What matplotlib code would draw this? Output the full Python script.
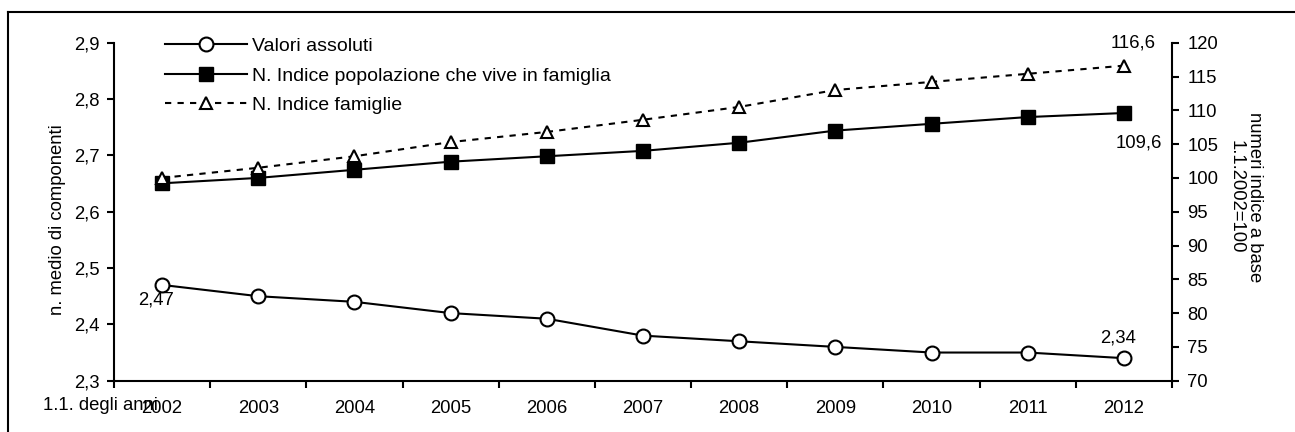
import matplotlib
matplotlib.use("Agg")
import matplotlib.pyplot as plt
from matplotlib.lines import Line2D

plt.rcParams['font.family'] = ['Liberation Sans', 'DejaVu Sans']

years = ['2002', '2003', '2004', '2005', '2006', '2007', '2008', '2009', '2010', '2011', '2012']
valori_assoluti = [2.47, 2.45, 2.44, 2.42, 2.41, 2.38, 2.37, 2.36, 2.35, 2.35, 2.34]
indice_popolazione = [99.2, 100.0, 101.2, 102.4, 103.2, 104.0, 105.2, 107.0, 108.0, 109.0, 109.6]
indice_famiglie = [100.0, 101.5, 103.2, 105.3, 106.8, 108.6, 110.5, 113.0, 114.2, 115.4, 116.6]

left_ticks = [2.3, 2.4, 2.5, 2.6, 2.7, 2.8, 2.9]
right_ticks = list(range(70, 121, 5))

W, H = 1295, 432
fig = plt.figure(figsize=(W / 100, H / 100), dpi=100)
ax = fig.add_axes([114 / W, 1 - 380.7 / H, (1172 - 114) / W, (380.7 - 42.7) / H])
ax2 = ax.twinx()

x = [i + 0.5 for i in range(len(years))]
FS = 13.3
LW = 1.5
ax.set_xlim(0, len(years))
ax.set_ylim(2.3, 2.9)
ax2.set_ylim(70, 120)

# absolute values on the left axis
l1, = ax.plot(x, valori_assoluti, color='black', lw=LW, marker='o', ms=10,
              mfc='white', mec='black', mew=LW, zorder=5)
# index series on the right axis
l2, = ax2.plot(x, indice_popolazione, color='black', lw=LW, marker='s', ms=9.5,
               mfc='black', mec='black', zorder=4)
l3, = ax2.plot(x, indice_famiglie, color='black', lw=LW, ls=(0, (3.0, 3.0)),
               marker='^', ms=9, mfc='white', mec='black', mew=LW, zorder=4)

# axes styling
for a in (ax, ax2):
    a.spines['top'].set_visible(False)
    for s in a.spines.values():
        s.set_linewidth(LW)
ax.spines['right'].set_visible(False)
ax2.spines['left'].set_visible(False)
ax2.spines['bottom'].set_visible(False)

ax.set_yticks(left_ticks)
ax.set_yticklabels([f"{v:.1f}".replace('.', ',') for v in left_ticks], fontsize=FS)
ax2.set_yticks(right_ticks)
ax2.set_yticklabels([str(v) for v in right_ticks], fontsize=FS)
ax.tick_params(axis='y', direction='out', length=5, width=LW, pad=5)
ax2.tick_params(axis='y', direction='out', length=5, width=LW, pad=6)

ax.set_xticks(range(len(years) + 1))
ax.set_xticklabels([])
ax.set_xticks(x, minor=True)
ax.set_xticklabels(years, minor=True, fontsize=FS)
ax.tick_params(axis='x', which='major', direction='out', length=5, width=LW)
ax.tick_params(axis='x', which='minor', length=0, pad=14)

fig.text(100 / W, 1 - 405 / H, '1.1. degli anni', fontsize=FS, ha='center', va='center')
fig.text(57 / W, 1 - 220 / H, 'n. medio di componenti', fontsize=FS,
         rotation=90, ha='center', va='center')
fig.text(1245 / W, 1 - 197 / H, 'numeri indice a base\n1.1.2002=100', fontsize=FS,
         rotation=270, ha='center', va='center', multialignment='center',
         linespacing=1.1)

# value labels at the ends of the series
px = 0.72
ax.annotate(f"{valori_assoluti[0]:.2f}".replace('.', ','), (x[0], valori_assoluti[0]),
            xytext=(-6 * px, -15 * px), textcoords='offset points',
            ha='center', va='center', fontsize=FS)
ax.annotate(f"{valori_assoluti[-1]:.2f}".replace('.', ','), (x[-1], valori_assoluti[-1]),
            xytext=(-6 * px, 20 * px), textcoords='offset points',
            ha='center', va='center', fontsize=FS)
ax2.annotate(f"{indice_famiglie[-1]:.1f}".replace('.', ','), (x[-1], indice_famiglie[-1]),
             xytext=(9 * px, 23 * px), textcoords='offset points',
             ha='center', va='center', fontsize=FS)
ax2.annotate(f"{indice_popolazione[-1]:.1f}".replace('.', ','), (x[-1], indice_popolazione[-1]),
             xytext=(15 * px, -30 * px), textcoords='offset points',
             ha='center', va='center', fontsize=FS)

leg = ax.legend([l1, l2, l3],
                ['Valori assoluti', 'N. Indice popolazione che vive in famiglia',
                 'N. Indice famiglie'],
                loc='upper left', bbox_to_anchor=(51 / (1172 - 114), 1.015),
                frameon=False, fontsize=14, handlelength=4.2, handletextpad=0.28,
                labelspacing=0.6, borderaxespad=0, borderpad=0)

# outer frame
fig.add_artist(Line2D([8 / W, 8 / W], [0, 1 - 12 / H], transform=fig.transFigure,
                      color='black', lw=1.5))
fig.add_artist(Line2D([8 / W, 1], [1 - 12 / H, 1 - 12 / H], transform=fig.transFigure,
                      color='black', lw=1.5))

fig.savefig('out.png', dpi=100)
